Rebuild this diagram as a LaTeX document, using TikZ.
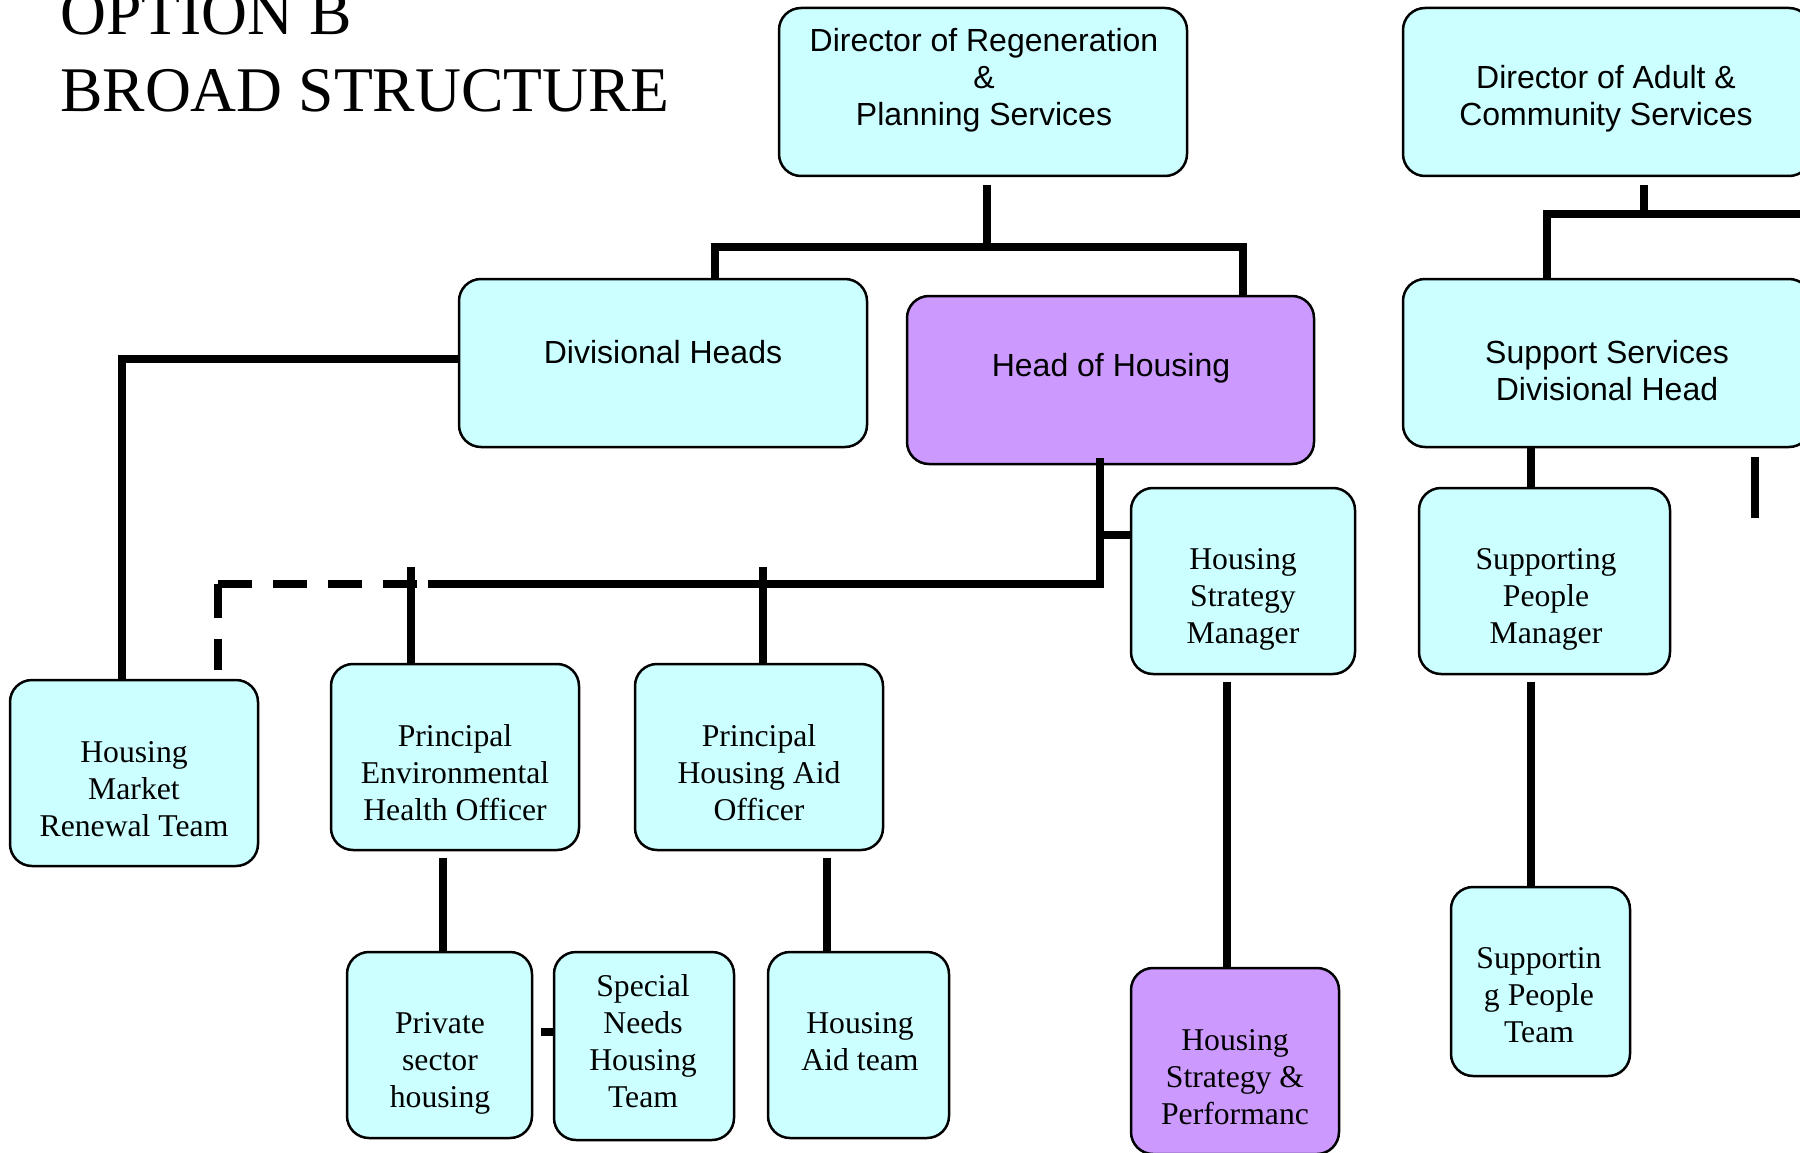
\documentclass[tikz,border=0pt]{standalone}
\usepackage{fontspec}
\setmainfont{Liberation Serif}
\newfontfamily\boxsans{Liberation Sans}
\newfontfamily\boxserif{Liberation Serif}
\usetikzlibrary{calc}
\definecolor{boxcyan}{HTML}{CCFFFF}
\definecolor{boxviolet}{HTML}{CC99FF}
\begin{document}
\begin{tikzpicture}[x=1pt,y=-1pt,
  box/.style={draw=black, line width=2.5pt, rounded corners=22pt, fill=boxcyan, inner sep=0pt},
  keybox/.style={box, fill=boxviolet},
  sanslabel/.style={font=\boxsans\fontsize{32}{37}\selectfont, align=center, inner sep=0pt},
  seriflabel/.style={font=\boxserif\fontsize{31.7}{37}\selectfont, align=center, inner sep=0pt},
  conn/.style={line width=7.5pt, line join=miter},
  dashlink/.style={conn, dash pattern=on 34pt off 21pt},
  titletext/.style={font=\fontsize{63.6}{70}\selectfont, anchor=base west, inner sep=0pt}
]
\clip (0,0) rectangle (1800,1153);

% heading
\node[titletext] (title1) at (60,35) {OPTION B};
\node[titletext] (title2) at (60,112) {BROAD STRUCTURE};

% boxes
\node[box, minimum width=408pt, minimum height=168pt] (dirreg) at (983,92) {};
\node[box, minimum width=408pt, minimum height=168pt] (diradult) at (1607,92) {};
\node[box, minimum width=408pt, minimum height=168pt] (divheads) at (663,363) {};
\node[keybox, minimum width=407pt, minimum height=168pt] (headhousing) at (1110.5,380) {};
\node[box, minimum width=408pt, minimum height=168pt] (support) at (1607,363) {};
\node[box, minimum width=224pt, minimum height=186pt] (hsm) at (1243,581) {};
\node[box, minimum width=251pt, minimum height=186pt] (spm) at (1544.5,581) {};
\node[box, minimum width=248pt, minimum height=186pt] (hmr) at (134,773) {};
\node[box, minimum width=248pt, minimum height=186pt] (peho) at (455,757) {};
\node[box, minimum width=248pt, minimum height=186pt] (phao) at (759,757) {};
\node[box, minimum width=185pt, minimum height=186pt] (psh) at (439.5,1045) {};
\node[box, minimum width=180pt, minimum height=188pt] (snht) at (644,1046) {};
\node[box, minimum width=181pt, minimum height=186pt] (hat) at (858.5,1045) {};
\node[keybox, minimum width=208pt, minimum height=186pt] (hsp) at (1235,1061) {};
\node[box, minimum width=179pt, minimum height=189pt] (spt) at (1540.5,981.5) {};

% box texts
\node[sanslabel] (dirreg-t) at (984,80) {Director of Regeneration\\\&\\Planning Services};
\node[sanslabel] (diradult-t) at (1606,99) {Director of Adult \&\\Community Services};
\node[sanslabel] (divheads-t) at (663,352) {Divisional Heads};
\node[sanslabel] (headhousing-t) at (1111,368) {Head of Housing};
\node[sanslabel] (support-t) at (1607,371) {Support Services\\Divisional Head};
\node[seriflabel] (hsm-t) at (1243,599) {Housing\\Strategy\\Manager};
\node[seriflabel] (spm-t) at (1546,599) {Supporting\\People\\Manager};
\node[seriflabel] (hmr-t) at (134,789) {Housing\\Market\\Renewal Team};
\node[seriflabel] (peho-t) at (455,773) {Principal\\Environmental\\Health Officer};
\node[seriflabel] (phao-t) at (759,773) {Principal\\Housing Aid\\Officer};
\node[seriflabel] (psh-t) at (440,1063) {Private\\sector\\housing};
\node[seriflabel] (snht-t) at (643,1041) {Special\\Needs\\Housing\\Team};
\node[seriflabel] (hat-t) at (860,1042) {Housing\\Aid team};
\node[seriflabel] (hsp-t) at (1235,1077) {Housing\\Strategy \&\\Performanc};
\node[seriflabel] (spt-t) at (1539,995) {Supportin\\g People\\Team};

% Regeneration & Planning branch
\coordinate (regbus) at (987,247);
\draw[conn] ($(dirreg.south)+(4,8)$) -- (regbus);
\draw[conn] ($(divheads.north)+(52,0)$) |- (regbus) -| ($(headhousing.north)+(132.5,0)$);

% Adult & Community branch
\coordinate (adultbus) at (1644,214);
\coordinate (adultbusend) at (1812,214);
\draw[conn] ($(diradult.south)+(37,8)$) -- (adultbus);
\draw[conn] ($(support.north)+(-60,0)$) |- (adultbus) -- (adultbusend);
\draw[conn] ($(support.south)+(-76,0)$) -- ($(spm.north)+(-13.5,0)$);
\coordinate (straytop) at (1755,457);
\coordinate (straybot) at (1755,518);
\draw[conn] (straytop) -- (straybot);

% Divisional heads to market renewal
\draw[conn] ($(divheads.west)+(0,-4)$) -| ($(hmr.north)+(-12,0)$);

% Head of Housing bus
\coordinate (hhcorner) at (1100,584);
\coordinate (solidend) at (428,584);
\coordinate (dcorner) at (218,584);
\coordinate (hsmtap) at (1100,535);
\draw[conn] ($(headhousing.south)+(-10.5,-7)$) -- (hhcorner) -- (solidend);
\draw[conn] (hsmtap) -- (hsm.west |- hsmtap);
\draw[dashlink] (dcorner) -- (solidend);
\draw[dashlink] (dcorner) -- ($(hmr.north)+(84,-9)$);
\draw[conn] ($(peho.north)+(-44,-96)$) -- ($(peho.north)+(-44,0)$);
\draw[conn] ($(phao.north)+(4,-96)$) -- ($(phao.north)+(4,0)$);

% lower teams
\draw[conn] ($(peho.south)+(-12,7)$) -- ($(psh.north)+(3.5,0)$);
\draw[conn] ($(phao.south)+(68,7)$) -- ($(hat.north)+(-31.5,0)$);
\draw[conn] ($(psh.east)+(8,-13)$) -- ($(snht.west)+(0,-14)$);
\draw[conn] ($(hsm.south)+(-16,7)$) -- ($(hsp.north)+(-8,0)$);
\draw[conn] ($(spm.south)+(-13.5,7)$) -- ($(spt.north)+(-9.5,0)$);
\end{tikzpicture}
\end{document}
